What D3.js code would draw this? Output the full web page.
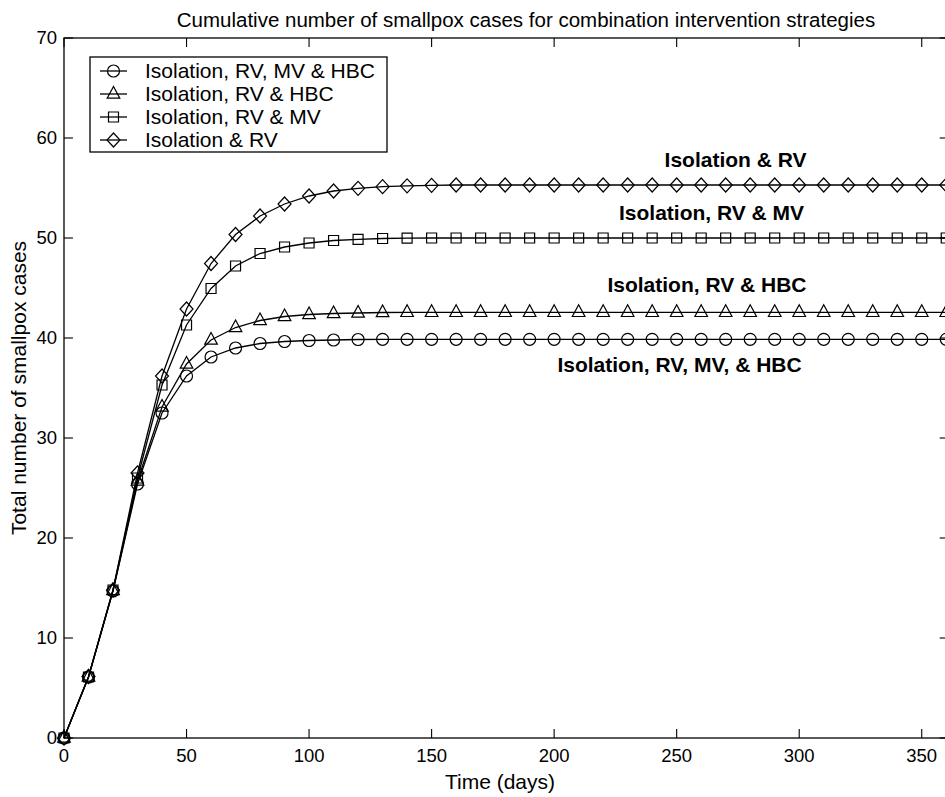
<!DOCTYPE html>
<html>
<head>
<meta charset="utf-8">
<script src="https://cdn.jsdelivr.net/npm/d3@7"></script>
<style>
  html, body { margin: 0; padding: 0; background: #fff; }
  svg { display: block; font-family: "Liberation Sans", Arial, Helvetica, sans-serif; }
</style>
</head>
<body>
<div id="chart"></div>
<script>
const days = d3.range(0, 361, 10);

const seriesNames = [
  "Isolation, RV, MV & HBC",
  "Isolation, RV & HBC",
  "Isolation, RV & MV",
  "Isolation & RV"
];

const seriesMarkers = ["circle", "triangle", "square", "diamond"];

const allFour = [
  0, 6.1, 14.7, 25.4, 32.5, 36.2, 38.1, 39.0, 39.45, 39.65, 39.75, 39.8, 39.85, 39.87,
  39.87, 39.87, 39.87, 39.87, 39.87, 39.87, 39.87, 39.87, 39.87, 39.87, 39.87, 39.87,
  39.87, 39.87, 39.87, 39.87, 39.87, 39.87, 39.87, 39.87, 39.87, 39.87, 39.87
];

const rvHbc = [
  0, 6.1, 14.75, 25.7, 33.1, 37.4, 39.8, 41.05, 41.75, 42.15, 42.35, 42.45, 42.5, 42.55,
  42.57, 42.57, 42.57, 42.57, 42.57, 42.57, 42.57, 42.57, 42.57, 42.57, 42.57, 42.57,
  42.57, 42.57, 42.57, 42.57, 42.57, 42.57, 42.57, 42.57, 42.57, 42.57, 42.57
];

const rvMv = [
  0, 6.1, 14.8, 26.0, 35.3, 41.3, 44.95, 47.2, 48.45, 49.1, 49.5, 49.75, 49.87, 49.95,
  49.98, 50.0, 50.0, 50.0, 50.0, 50.0, 50.0, 50.0, 50.0, 50.0, 50.0, 50.0,
  50.0, 50.0, 50.0, 50.0, 50.0, 50.0, 50.0, 50.0, 50.0, 50.0, 50.0
];

const rvOnly = [
  0, 6.15, 14.8, 26.5, 36.2, 42.9, 47.45, 50.35, 52.2, 53.4, 54.2, 54.7, 54.97, 55.13,
  55.22, 55.27, 55.3, 55.3, 55.3, 55.3, 55.3, 55.3, 55.3, 55.3, 55.3, 55.3,
  55.3, 55.3, 55.3, 55.3, 55.3, 55.3, 55.3, 55.3, 55.3, 55.3, 55.3
];

const seriesValues = [allFour, rvHbc, rvMv, rvOnly];

const xTicks = [0, 50, 100, 150, 200, 250, 300, 350];
const yTicks = [0, 10, 20, 30, 40, 50, 60, 70];

// in-plot annotations (right end of text, in data units)
const noteTexts = ["Isolation & RV", "Isolation, RV & MV", "Isolation, RV & HBC", "Isolation, RV, MV, & HBC"];
const noteDay = [303, 302, 303, 301];
const noteValue = [57.8, 52.5, 45.3, 37.3];

const width = 945, height = 797;
const plotLeft = 64, plotRight = 948.7, plotTop = 38, plotBottom = 738;
const tickLen = 9;

const svg = d3.select("#chart")
  .append("svg")
  .attr("width", width)
  .attr("height", height);

const x = d3.scaleLinear().domain([0, 361]).range([plotLeft, plotRight]);
const y = d3.scaleLinear().domain([0, 70]).range([plotBottom, plotTop]);

// marker outlines centred on 0,0
function markerPath(kind) {
  if (kind === "circle") {
    const p = d3.path();
    p.arc(0, 0, 6, 0, 2 * Math.PI);
    return p.toString();
  }
  if (kind === "square") return "M-5,-5H5V5H-5Z";
  if (kind === "triangle") return "M0,-7.5L6.3,4.2L-6.3,4.2Z";
  return "M0,-7L6.5,0L0,7L-6.5,0Z";
}

// frame
svg.append("rect")
  .attr("x", plotLeft).attr("y", plotTop)
  .attr("width", plotRight - plotLeft).attr("height", plotBottom - plotTop)
  .attr("fill", "none").attr("stroke", "#000").attr("stroke-width", 1.3);

// ticks inside on all sides
const tickG = svg.append("g").attr("stroke", "#000").attr("stroke-width", 1.1);
xTicks.forEach(t => {
  tickG.append("line").attr("x1", x(t)).attr("x2", x(t)).attr("y1", plotBottom).attr("y2", plotBottom - tickLen);
  tickG.append("line").attr("x1", x(t)).attr("x2", x(t)).attr("y1", plotTop).attr("y2", plotTop + tickLen);
});
yTicks.forEach(t => {
  tickG.append("line").attr("x1", plotLeft).attr("x2", plotLeft + tickLen).attr("y1", y(t)).attr("y2", y(t));
  tickG.append("line").attr("x1", plotRight).attr("x2", plotRight - tickLen).attr("y1", y(t)).attr("y2", y(t));
});

svg.append("g")
  .selectAll("text")
  .data(xTicks)
  .join("text")
  .attr("x", d => x(d))
  .attr("y", 762)
  .attr("text-anchor", "middle")
  .style("font-size", "18.5px")
  .text(d => d);

svg.append("g")
  .selectAll("text")
  .data(yTicks)
  .join("text")
  .attr("x", plotLeft - 7)
  .attr("y", d => y(d))
  .attr("dy", "0.35em")
  .attr("text-anchor", "end")
  .style("font-size", "18.5px")
  .text(d => d);

// series
const line = d3.line()
  .x((d, i) => x(days[i]))
  .y(d => y(d));

const plot = svg.append("g");

seriesValues.forEach((vals, s) => {
  plot.append("path")
    .attr("d", line(vals))
    .attr("fill", "none")
    .attr("stroke", "#000")
    .attr("stroke-width", 1.3);

  plot.append("g")
    .selectAll("path")
    .data(vals)
    .join("path")
    .attr("transform", (d, i) => `translate(${x(days[i])},${y(d)})`)
    .attr("d", markerPath(seriesMarkers[s]))
    .attr("fill", "none")
    .attr("stroke", "#000")
    .attr("stroke-width", 1.2);
});

// annotations
svg.append("g")
  .selectAll("text")
  .data(noteTexts)
  .join("text")
  .attr("x", (d, i) => x(noteDay[i]))
  .attr("y", (d, i) => y(noteValue[i]))
  .attr("dy", "0.35em")
  .attr("text-anchor", "end")
  .style("font-size", "21px")
  .style("font-weight", "bold")
  .text(d => d);

// legend
const legend = svg.append("g");
legend.append("rect")
  .attr("x", 90).attr("y", 57)
  .attr("width", 297).attr("height", 95)
  .attr("fill", "#fff").attr("stroke", "#000").attr("stroke-width", 1.3);

seriesNames.forEach((name, i) => {
  const ry = 71 + i * 23;
  legend.append("line")
    .attr("x1", 100).attr("x2", 127).attr("y1", ry).attr("y2", ry)
    .attr("stroke", "#000").attr("stroke-width", 1.3);
  legend.append("path")
    .attr("transform", `translate(113.5,${ry})`)
    .attr("d", markerPath(seriesMarkers[i]))
    .attr("fill", "none").attr("stroke", "#000").attr("stroke-width", 1.2);
  legend.append("text")
    .attr("x", 145).attr("y", ry).attr("dy", "0.35em")
    .style("font-size", "21px")
    .text(name);
});

// titles
svg.append("text")
  .attr("x", 526).attr("y", 27)
  .attr("text-anchor", "middle")
  .style("font-size", "20.5px")
  .text("Cumulative number of smallpox cases for combination intervention strategies");

svg.append("text")
  .attr("x", 500).attr("y", 789)
  .attr("text-anchor", "middle")
  .style("font-size", "21px")
  .text("Time (days)");

svg.append("text")
  .attr("transform", "translate(26,388) rotate(-90)")
  .attr("text-anchor", "middle")
  .style("font-size", "21px")
  .text("Total number of smallpox cases");
</script>
</body>
</html>
